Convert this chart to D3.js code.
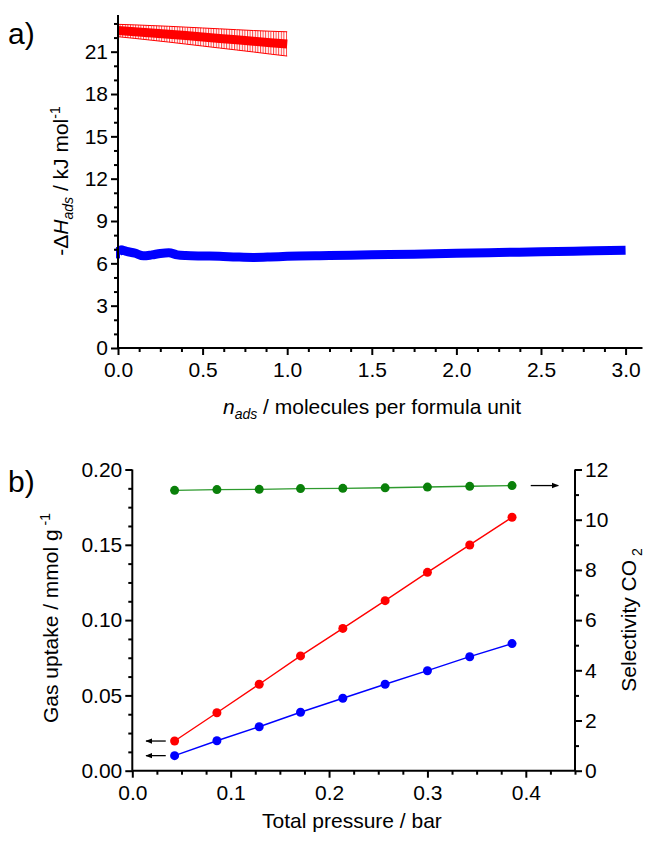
<!DOCTYPE html>
<html>
<head>
<meta charset="utf-8">
<script src="https://cdn.jsdelivr.net/npm/d3@7"></script>
<style>
body { margin: 0; background: #fff; }
svg text { font-family: "Liberation Sans", Arial, sans-serif; fill: #000; }
</style>
</head>
<body>
<div id="container"></div>
<script>
// panel a: isosteric heat of adsorption
var redN = [0, 0.1, 0.2, 0.3, 0.4, 0.5, 0.6, 0.7, 0.8, 0.9, 1.0];
var redH = [22.5, 22.42, 22.33, 22.24, 22.14, 22.04, 21.94, 21.84, 21.74, 21.64, 21.55];
var redErr = [0.44, 0.48, 0.52, 0.56, 0.6, 0.64, 0.68, 0.72, 0.76, 0.81, 0.86];

var blueN = [0, 0.02, 0.05, 0.1, 0.15, 0.2, 0.25, 0.3, 0.35, 0.4, 0.5, 0.6, 0.7, 0.8, 0.9, 1.0, 1.25, 1.5, 1.75, 2.0, 2.25, 2.5, 2.75, 3.0];
var blueH = [6.75, 6.95, 6.85, 6.72, 6.53, 6.6, 6.7, 6.75, 6.6, 6.55, 6.52, 6.5, 6.45, 6.42, 6.45, 6.5, 6.55, 6.6, 6.65, 6.72, 6.77, 6.82, 6.87, 6.93];
var blueErr = [0.4, 0.3, 0.1, 0, 0, 0, 0, 0, 0, 0, 0, 0, 0, 0, 0, 0, 0, 0, 0, 0, 0, 0, 0, 0];

var aYTicks = [0, 3, 6, 9, 12, 15, 18, 21];
var aXTicks = [0, 0.5, 1.0, 1.5, 2.0, 2.5, 3.0];

// panel b: IAST uptake and selectivity
var pressure = [0.043, 0.086, 0.129, 0.171, 0.214, 0.257, 0.300, 0.343, 0.386];
var uptakeRed = [0.0197, 0.0385, 0.0574, 0.0762, 0.0945, 0.1129, 0.1317, 0.1499, 0.1683];
var uptakeBlue = [0.0100, 0.0199, 0.0292, 0.0388, 0.0481, 0.0574, 0.0664, 0.0757, 0.0844];
var selectivity = [11.17, 11.20, 11.21, 11.24, 11.25, 11.27, 11.30, 11.33, 11.36];

var bXTicks = [0, 0.1, 0.2, 0.3, 0.4];
var bYTicks = [0, 0.05, 0.10, 0.15, 0.20];
var bY2Ticks = [0, 2, 4, 6, 8, 10, 12];

var svg = d3.select("#container").append("svg")
	.attr("width", 645)
	.attr("height", 841);

var defs = svg.append("defs");
var pat = defs.append("pattern")
	.attr("id", "hatch")
	.attr("patternUnits", "userSpaceOnUse")
	.attr("width", 2.6)
	.attr("height", 10);
pat.append("rect").attr("x", 0).attr("y", 0).attr("width", 1).attr("height", 10)
	.style("fill", "#ff0000").style("fill-opacity", 0.75);

defs.append("marker")
	.attr("id", "head")
	.attr("viewBox", "0 0 10 10")
	.attr("refX", 9).attr("refY", 5)
	.attr("markerWidth", 7).attr("markerHeight", 7)
	.attr("markerUnits", "userSpaceOnUse")
	.attr("orient", "auto")
	.append("path").attr("d", "M0,1 L10,5 L0,9 Z").style("fill", "#000");

function range(start, stop, step) {
	var out = [];
	for (var v = start; v <= stop + 1e-9; v += step) out.push(+v.toFixed(6));
	return out;
}

// draw one axis with major + minor ticks
function drawAxis(g, scale, orient, major, minor, fmt, width) {
	var maker = orient == "left" ? d3.axisLeft : orient == "right" ? d3.axisRight : d3.axisBottom;
	var axMinor = g.append("g").call(maker(scale).tickValues(minor).tickSize(4).tickFormat(""));
	var ax = g.append("g").call(maker(scale).tickValues(major).tickSize(7).tickPadding(3).tickFormat(fmt));
	g.selectAll("path.domain").style("stroke-width", width).attr("d", function() {
		var r = scale.range();
		if (orient == "bottom") return "M" + r[0] + ",0H" + r[1];
		return "M0," + r[0] + "V" + r[1];
	});
	g.selectAll("line").style("stroke-width", width);
	ax.selectAll("text").style("font-size", "21px").style("font-family", "Liberation Sans, Arial, sans-serif");
	axMinor.select("path.domain").remove();
	return ax;
}

// ---------------- panel a ----------------
var xa = d3.scaleLinear().domain([0, 3.1]).range([118, 642.5]);
var ya = d3.scaleLinear().domain([0, 23.6]).range([348, 15]);

var ga = svg.append("g");

var band = d3.area()
	.x(function(d, i) { return xa(redN[i]); })
	.y0(function(d, i) { return ya(redH[i] - redErr[i]); })
	.y1(function(d, i) { return ya(redH[i] + redErr[i]); });
ga.append("path")
	.attr("d", band(redN))
	.style("fill", "url(#hatch)");
["-", "+"].forEach(function(s) {
	ga.append("path")
		.attr("d", d3.line()
			.x(function(d, i) { return xa(redN[i]); })
			.y(function(d, i) { return ya(redH[i] + (s == "+" ? redErr[i] : -redErr[i])); })(redN))
		.style("fill", "none").style("stroke", "#ff0000").style("stroke-width", 1);
});
ga.append("path")
	.attr("d", d3.line()
		.x(function(d, i) { return xa(redN[i]); })
		.y(function(d, i) { return ya(redH[i]); })(redN))
	.style("fill", "none").style("stroke", "#ff0000").style("stroke-width", 9);

ga.selectAll(".berr").data(blueN.filter(function(d, i) { return blueErr[i] > 0; })).enter()
	.append("line")
	.attr("x1", function(d) { return xa(d); })
	.attr("x2", function(d) { return xa(d); })
	.attr("y1", function(d) { var i = blueN.indexOf(d); return ya(blueH[i] - blueErr[i]); })
	.attr("y2", function(d) { var i = blueN.indexOf(d); return ya(blueH[i] + blueErr[i]); })
	.style("stroke", "#0000ff").style("stroke-width", 4);
ga.append("path")
	.attr("d", d3.line()
		.x(function(d, i) { return xa(blueN[i]); })
		.y(function(d, i) { return ya(blueH[i]); })
		.curve(d3.curveMonotoneX)(blueN))
	.style("fill", "none").style("stroke", "#0000ff").style("stroke-width", 9);

var gaY = ga.append("g").attr("transform", "translate(118,0)");
drawAxis(gaY, ya, "left", aYTicks, range(0, 23, 1).filter(function(v) { return v % 3 != 0; }), d3.format("d"), 2);
var gaX = ga.append("g").attr("transform", "translate(0,348)");
drawAxis(gaX, xa, "bottom", aXTicks, range(0, 3.1, 0.125).filter(function(v) { return v % 0.5 != 0; }), d3.format(".1f"), 2);
gaX.selectAll(".tick text").attr("dy", "0.9em");

ga.append("text").attr("x", 8).attr("y", 44).style("font-size", "30px").text("a)");

var ta = ga.append("text")
	.attr("transform", "translate(68,181) rotate(-90)")
	.attr("text-anchor", "middle")
	.style("font-size", "21px");
ta.append("tspan").text("-Δ");
ta.append("tspan").style("font-style", "italic").text("H");
ta.append("tspan").attr("dy", 5).style("font-size", "14px").style("font-style", "italic").text("ads");
ta.append("tspan").attr("dy", -5).text(" / kJ mol");
ta.append("tspan").attr("dy", -8).style("font-size", "14px").text("-1");

var tax = ga.append("text")
	.attr("x", 372).attr("y", 414)
	.attr("text-anchor", "middle")
	.style("font-size", "21px");
tax.append("tspan").style("font-style", "italic").text("n");
tax.append("tspan").attr("dy", 5).style("font-size", "14px").style("font-style", "italic").text("ads");
tax.append("tspan").attr("dy", -5).text(" / molecules per formula unit");

// ---------------- panel b ----------------
var xb = d3.scaleLinear().domain([0, 0.45]).range([132.3, 575]);
var yb = d3.scaleLinear().domain([0, 0.2]).range([770.7, 469.5]);
var yb2 = d3.scaleLinear().domain([0, 12]).range([770.7, 469.5]);

var gb = svg.append("g");

var seriesB = [
	{ values: selectivity, scale: yb2, line: "#2e9a2e", dot: "#0a800a" },
	{ values: uptakeRed, scale: yb, line: "#ff0000", dot: "#ff0000" },
	{ values: uptakeBlue, scale: yb, line: "#0000ff", dot: "#0000ff" }
];
seriesB.forEach(function(s) {
	gb.append("path")
		.attr("d", d3.line()
			.x(function(d, i) { return xb(pressure[i]); })
			.y(function(d) { return s.scale(d); })(s.values))
		.style("fill", "none").style("stroke", s.line).style("stroke-width", 1.4);
	gb.selectAll(null).data(s.values).enter()
		.append("circle")
		.attr("cx", function(d, i) { return xb(pressure[i]); })
		.attr("cy", function(d) { return s.scale(d); })
		.attr("r", 4.5)
		.style("fill", s.dot);
});

// arrows pointing to the axis each series belongs to
var arrows = [
	{ x1: 0.034, x2: 0.014, y: uptakeRed[0], scale: yb },
	{ x1: 0.034, x2: 0.014, y: uptakeBlue[0], scale: yb },
	{ x1: 0.405, x2: 0.433, y: selectivity[selectivity.length - 1], scale: yb2 }
];
gb.selectAll(".arrow").data(arrows).enter()
	.append("line")
	.attr("x1", function(d) { return xb(d.x1); })
	.attr("x2", function(d) { return xb(d.x2); })
	.attr("y1", function(d) { return d.scale(d.y); })
	.attr("y2", function(d) { return d.scale(d.y); })
	.style("stroke", "#000").style("stroke-width", 1.3)
	.attr("marker-end", "url(#head)");

var gbY = gb.append("g").attr("transform", "translate(132.3,0)");
drawAxis(gbY, yb, "left", bYTicks, range(0, 0.2, 0.0125).filter(function(v) { return Math.abs(v / 0.05 - Math.round(v / 0.05)) > 1e-6; }), d3.format(".2f"), 2);
var gbY2 = gb.append("g").attr("transform", "translate(575,0)");
drawAxis(gbY2, yb2, "right", bY2Ticks, range(1, 11, 2), d3.format("d"), 2);
var gbX = gb.append("g").attr("transform", "translate(0,770.7)");
drawAxis(gbX, xb, "bottom", bXTicks, range(0.025, 0.45, 0.025).filter(function(v) { return Math.abs(v / 0.1 - Math.round(v / 0.1)) > 1e-6; }), d3.format(".1f"), 2);
gbX.selectAll(".tick text").attr("dy", "0.9em");

gb.append("text").attr("x", 8).attr("y", 492).style("font-size", "30px").text("b)");

var tby = gb.append("text")
	.attr("transform", "translate(58,618) rotate(-90)")
	.attr("text-anchor", "middle")
	.style("font-size", "21px");
tby.append("tspan").text("Gas uptake / mmol g");
tby.append("tspan").attr("dy", -8).style("font-size", "14px").text(" -1");

var tby2 = gb.append("text")
	.attr("transform", "translate(636,620) rotate(-90)")
	.attr("text-anchor", "middle")
	.style("font-size", "21px");
tby2.append("tspan").text("Selectivity CO");
tby2.append("tspan").attr("dy", 6).style("font-size", "14px").text(" 2");

gb.append("text")
	.attr("x", 352).attr("y", 828)
	.attr("text-anchor", "middle")
	.style("font-size", "21px")
	.text("Total pressure / bar");
</script>
</body>
</html>
